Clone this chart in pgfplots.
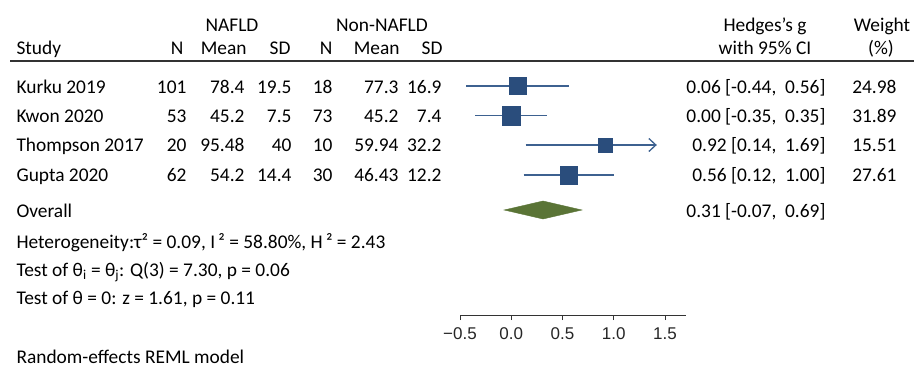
\documentclass[border=0pt]{standalone}
\usepackage{fontspec}
\setmainfont{Carlito}
\newfontfamily\tickfont{Liberation Sans}
\usepackage{pgfplots}
\pgfplotsset{compat=1.18}
\usetikzlibrary{arrows.meta}
\definecolor{sq}{HTML}{2A4D7C}
\definecolor{ci}{HTML}{3D6190}
\definecolor{dia}{HTML}{5A7436}
\definecolor{rulec}{HTML}{333333}
\begin{document}
\begin{tikzpicture}[x=1bp,y=1bp,font=\fontsize{19.4bp}{22bp}\selectfont]
\path[use as bounding box] (0,0) rectangle (914,372);
\begin{axis}[
  at={(460bp,57bp)}, anchor=south west,
  scale only axis, width=225.5bp, height=315bp,
  xmin=-0.5, xmax=1.7, ymin=57, ymax=372,
  axis y line=none, axis x line*=bottom,
  x axis line style={-, draw=black!80, line width=0.9bp},
  xtick={-0.5,0,0.5,1,1.5},
  xticklabels={−0.5,0.0,0.5,1.0,1.5},
  tick align=outside, major tick length=5bp,
  xtick style={draw=black!80, line width=0.9bp},
  xticklabel style={font=\tickfont\fontsize{17bp}{20bp}\selectfont, text=black!85, yshift=-4bp},
  clip=false,
]
% CI lines
\addplot[ci, line width=1.3bp] coordinates {(-0.44,286) (0.56,286)};
\addplot[ci, line width=1.3bp] coordinates {(-0.35,256.5) (0.35,256.5)};
\addplot[ci, line width=1.3bp, -{Straight Barb[length=7bp,width=13bp,line width=1.3bp]}] coordinates {(0.14,227) (1.42,227)};
\addplot[ci, line width=1.3bp] coordinates {(0.12,197) (1.00,197)};
% study squares
\addplot[only marks, mark=square*, mark size=8.6bp, mark options={fill=sq, draw=sq}] coordinates {(0.06,286)};
\addplot[only marks, mark=square*, mark size=9.4bp, mark options={fill=sq, draw=sq}] coordinates {(0.00,256.5)};
\addplot[only marks, mark=square*, mark size=7.0bp, mark options={fill=sq, draw=sq}] coordinates {(0.92,227)};
\addplot[only marks, mark=square*, mark size=8.8bp, mark options={fill=sq, draw=sq}] coordinates {(0.56,197)};
% overall diamond
\addplot[fill=dia, draw=dia] coordinates {(-0.07,162) (0.31,171) (0.69,162) (0.31,153)} --cycle;
\end{axis}
% header
\draw[rulec, line width=1.8bp] (10,311) -- (914,311);
\node[anchor=base] at (232,341) {NAFLD};
\node[anchor=base] at (382,341) {Non-NAFLD};
\node[anchor=base] at (765,341) {Hedges’s g};
\node[anchor=base] at (882,341) {Weight};
\node[anchor=base west] at (13,318) {Study};
\node[anchor=base east] at (187,318) {N};
\node[anchor=base east] at (250,318) {Mean};
\node[anchor=base east] at (294,318) {SD};
\node[anchor=base east] at (336,318) {N};
\node[anchor=base east] at (403,318) {Mean};
\node[anchor=base east] at (446,318) {SD};
\node[anchor=base] at (765,318) {with 95\% CI};
\node[anchor=base] at (881,318) {(\%)};
% rows
\foreach \name/\na/\ma/\sa/\nb/\mb/\sbb/\g/\w/\yy in {
  Kurku 2019/101/78.4/19.5/18/77.3/16.9/{0.06 [-0.44,\ \ 0.56]}/24.98/279,
  Kwon 2020/53/45.2/7.5/73/45.2/7.4/{0.00 [-0.35,\ \ 0.35]}/31.89/250,
  Thompson 2017/20/95.48/40/10/59.94/32.2/{0.92 [0.14,\ \ 1.69]}/15.51/221,
  Gupta 2020/62/54.2/14.4/30/46.43/12.2/{0.56 [0.12,\ \ 1.00]}/27.61/191}{
  \node[anchor=base west] at (13,\yy) {\name};
  \node[anchor=base east] at (190,\yy) {\na};
  \node[anchor=base east] at (248,\yy) {\ma};
  \node[anchor=base east] at (295,\yy) {\sa};
  \node[anchor=base east] at (336,\yy) {\nb};
  \node[anchor=base east] at (402,\yy) {\mb};
  \node[anchor=base east] at (445,\yy) {\sbb};
  \node[anchor=base east] at (829,\yy) {\g};
  \node[anchor=base east] at (900,\yy) {\w};
}
\node[anchor=base west] at (13,155) {Overall};
\node[anchor=base east] at (829,155) {0.31 [-0.07,\ \ 0.69]};
\node[anchor=base west] at (13,124) {Heterogeneity:τ² = 0.09, I\,² = 58.80\%, H\,² = 2.43};
\node[anchor=base west] at (13,96) {Test of θ\textsubscript{i} = θ\textsubscript{j}: Q(3) = 7.30, p = 0.06};
\node[anchor=base west] at (13,68) {Test of θ = 0: z = 1.61, p = 0.11};
\node[anchor=base west] at (13,9) {Random-effects REML model};
\end{tikzpicture}
\end{document}
